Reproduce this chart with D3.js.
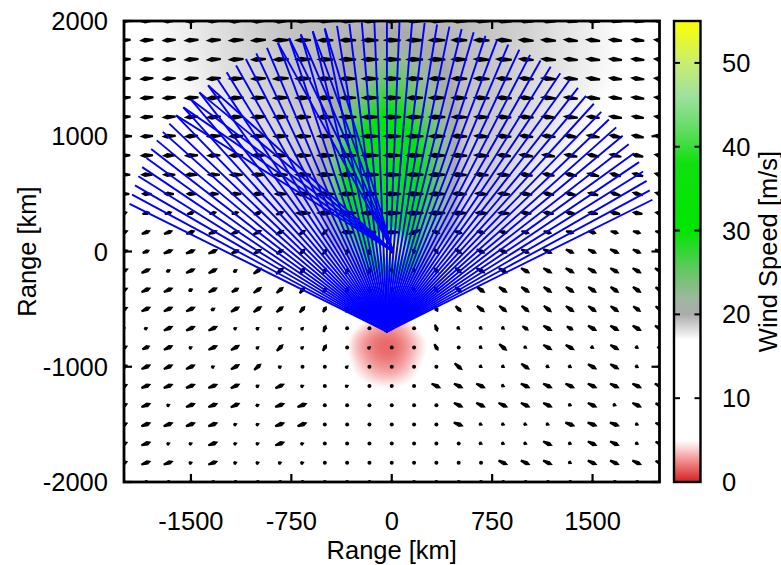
<!DOCTYPE html>
<html><head><meta charset="utf-8">
<script src="https://cdn.jsdelivr.net/npm/d3@7"></script>
<style>body{margin:0;background:#fff}svg{display:block}text{font-family:"Liberation Sans",Arial,Helvetica,sans-serif;fill:#000}</style>
</head><body><svg id="chart" width="781" height="565"></svg>
<script>
// ---------------- data ----------------
const xTicks = [-1500, -750, 0, 750, 1500];
const yTicks = [-2000, -1000, 0, 1000, 2000];
const cbTicks = [0, 10, 20, 30, 40, 50];
const xLabel = "Range [km]", yLabel = "Range [km]", cbLabel = "Wind Speed [m/s]";

// background wind-speed field (m/s), nodes every 250 km, rows from y=2000 down to y=-2000
const speedX = [-2000,-1750,-1500,-1250,-1000,-750,-500,-250,0,250,500,750,1000,1250,1500,1750,2000];
const speedY = [2000,1750,1500,1250,1000,750,500,250,0,-250,-500,-750,-1000,-1250,-1500,-1750,-2000];
const speedGrid = [
 [16.8,17.2,17.7,18.2,18.7,19.1,19.4,19.6,19.7,19.6,19.4,19,18.6,18,17.5,17,16.6],
 [16.6,17.1,17.6,18.1,18.6,19.1,19.5,20.2,21.5,20.2,19.5,19,18.5,18,17.5,17,16.5],
 [16.4,16.9,17.4,18,18.5,19,19.5,21.5,25,22,19.5,19,18.4,17.9,17.4,16.9,16.4],
 [16,16.5,17.1,17.7,18.3,18.9,19.6,25,29,24,19.6,18.9,18.3,17.8,17.2,16.7,16.2],
 [15.5,16.2,16.8,17.4,18.1,18.7,20,29,33,27,19.6,18.8,18.2,17.6,17,16.5,15.8],
 [15,15.8,16.5,17.2,17.9,18.6,21,33,35,28,19.5,18.7,18,17.4,16.9,16.3,15.5],
 [14.5,15.5,16.3,17,17.7,18.5,21,34,36,28,19.2,18.6,17.8,17.2,16.7,16,15],
 [14,15,16,16.7,17.3,18,19.5,31,37,26,18.8,18.2,17.5,17,16.4,15.6,14.5],
 [13.5,14.5,15.3,16,16.6,17.2,18.3,24,55,22,18,17.5,17,16.5,15.8,15,14],
 [13,14,14.5,15,15.5,16,16.5,17,20,17,16.5,16,15.5,15,14.5,14,13],
 [12.5,13,13.5,13.5,13.5,13.5,12.5,8.2,6.2,8.8,12,13,13,13,12.5,12,12],
 [12,12,12,12,12,11.5,9.5,3.6,2,5,9.5,12,12,12,12,12,12],
 [11.5,11.5,11.5,11.5,11.5,11,9.2,4.2,2.6,5.4,9.5,11.5,11.5,11.5,11.5,11.5,11.5],
 [11,11,11,11,11,11,10,6.8,6,7.2,10,11,11,11,11,11,11],
 [11,11,11,11,11,11,11,10.5,10,10.5,11,11,11,11,11,11,11],
 [11,11,11,11,11,11,11,11,11,11,11,11,11,11,11,11,11],
 [11,11,11,11,11,11,11,11,11,11,11,11,11,11,11,11,11]
];

// palette stops (m/s) and colours
const paletteStops  = [0, 1.5, 3, 4.2, 5, 17, 18, 20, 22, 26, 30, 38, 42, 46, 50, 55];
const paletteColors = ['#d42020','#e86060','#f4a5a5','#fcdede','#ffffff','#ffffff','#e2e2e2','#ababab','#9cb89c','#55cc55','#00e600','#10e010','#60dd60','#9ee09e','#c8ee70','#ffff00'];

// wind vectors on a 25 x 25 grid (km), rows from y=2000 down to y=-2000
const vecX = [-2000,-1833.3,-1666.7,-1500,-1333.3,-1166.7,-1000,-833.3,-666.7,-500,-333.3,-166.7,0,166.7,333.3,500,666.7,833.3,1000,1166.7,1333.3,1500,1666.7,1833.3,2000];
const vecY = [2000,1833.3,1666.7,1500,1333.3,1166.7,1000,833.3,666.7,500,333.3,166.7,0,-166.7,-333.3,-500,-666.7,-833.3,-1000,-1166.7,-1333.3,-1500,-1666.7,-1833.3,-2000];
// direction in degrees (0 = toward east, 90 = toward north)
const vecDir = [
 [184,184,184,184,184,183,183,182,181,180,180,180,180,180,180,179,178,177,176,176,175,175,175,175,175],
 [184,184,184,184,184,183,183,182,181,180,180,180,180,180,180,179,178,177,176,176,175,175,175,175,175],
 [184,184,184,184,184,183,183,182,181,180,180,180,180,180,180,179,178,177,176,176,175,175,175,175,175],
 [184,184,184,184,184,183,183,182,181,180,180,180,180,180,180,179,178,177,176,175,175,174,174,174,174],
 [184,184,184,184,184,183,183,182,181,180,180,180,180,180,180,179,178,177,176,175,174,173,173,173,173],
 [184,184,184,184,184,183,183,182,181,180,180,180,180,180,180,179,178,177,176,175,174,173,172,172,172],
 [183,183,183,183,183,182,182,181,180,180,180,180,180,180,180,178,177,176,175,174,172,171,170,170,170],
 [182,182,182,182,182,181,181,180,180,180,180,180,180,180,180,178,176,175,173,172,170,169,168,168,168],
 [180,180,180,180,180,180,180,180,180,180,180,180,180,180,180,178,176,174,172,170,168,166,165,165,165],
 [178,178,178,178,178,178,180,180,180,180,180,180,180,180,180,178,176,174,172,170,168,166,165,165,165],
 [15,15,15,15,15,15,18,20,180,180,180,180,180,180,180,180,178,176,174,172,170,170,170,170,170],
 [20,20,20,20,20,22,24,28,35,45,180,180,180,200,-20,-15,-15,-15,-15,-15,-15,-15,-15,-15,-15],
 [22,22,22,22,24,26,30,35,45,55,70,90,-80,-70,-50,-35,-25,-25,-25,-25,-25,-25,-25,-25,-25],
 [25,25,25,25,28,30,35,40,50,60,75,90,-80,-70,-50,-40,-30,-30,-30,-30,-30,-30,-30,-30,-30],
 [25,25,25,25,28,30,35,40,50,60,70,85,-80,-70,-55,-40,-35,-35,-35,-35,-35,-35,-35,-35,-35],
 [25,25,25,25,28,30,35,40,50,60,70,80,-80,-70,-60,-45,-40,-40,-40,-40,-35,-35,-35,-35,-35],
 [25,25,25,25,25,30,35,40,45,70,60,60,-80,-70,-70,-40,-40,-40,-35,-30,-30,-30,-30,-30,-30],
 [25,25,25,25,25,30,40,45,40,60,30,40,0,-60,-60,-40,-40,-40,-35,-30,-30,-30,-30,-30,-30],
 [25,25,25,25,25,30,40,30,30,30,40,0,0,0,0,-40,-35,-35,-35,-30,-30,-30,-30,-30,-30],
 [22,22,22,22,22,25,30,25,25,25,25,0,0,0,-25,-25,-25,-25,-25,-25,-25,-25,-25,-25,-25],
 [22,22,22,22,22,25,25,20,20,20,20,0,0,0,0,-25,-25,-25,-25,-25,-25,-25,-25,-25,-25],
 [20,20,20,20,20,20,20,20,20,20,20,0,0,0,0,-20,-20,-20,-20,-20,-20,-20,-20,-20,-20],
 [20,20,20,20,20,20,20,20,20,20,20,0,0,0,0,-25,-25,-25,-25,-25,-25,-25,-25,-25,-25],
 [20,20,20,20,20,20,20,20,20,20,20,0,0,0,0,-25,-25,-25,-25,-25,-25,-25,-25,-25,-25],
 [20,20,20,20,20,20,20,20,20,20,20,0,0,0,0,-25,-25,-25,-25,-25,-25,-25,-25,-25,-25]
];
// vector speed (m/s)
const vecSpeed = [
 [15,16,16,17,17,18,18,19,19,19,20,20,20,20,20,19,19,19,18,18,17,17,16,16,15],
 [15,16,16,17,17,18,18,19,19,19,20,20,20,20,20,19,19,19,18,18,17,17,16,16,15],
 [15,16,16,17,17,18,18,19,19,19,20,20,20,20,20,19,19,19,18,18,17,17,16,16,15],
 [15,16,16,17,17,18,18,19,19,19,20,20,20,20,20,19,19,19,18,18,17,17,16,16,15],
 [15,16,16,17,17,18,18,19,19,19,20,20,20,20,20,19,19,19,18,18,17,17,16,16,15],
 [15,15,16,16,17,17,18,18,19,20,21,21,21,21,20,19,18,18,18,17,17,16,16,15,15],
 [15,15,16,16,17,17,18,18,19,20,21,21,21,21,20,19,18,18,17,17,16,16,15,15,15],
 [14,15,15,16,16,17,17,18,19,20,21,21,21,21,20,19,18,17,17,16,16,15,15,14,14],
 [14,14,15,15,15,16,16,17,19,20,21,21,21,21,20,18,17,16,16,15,15,15,14,14,14],
 [12,12,12,12,12,13,14,15,18,20,21,21,21,21,20,18,16,15,15,14,14,13,13,13,13],
 [9,9,9,9,9,9,10,10,18,20,21,21,21,21,20,18,15,14,13,13,12,12,12,12,12],
 [11,11,11,11,11,11,11,11,10,10,15,15,15,15,10,10,10,10,10,10,10,10,10,10,10],
 [11,9,12,12,12,10,11,10,10,8,8,8,6,6,8,10,11,11,11,12,11,11,12,11,11],
 [12,12,6,12,12,6,12,12,10,8,8,8,6,6,8,10,12,12,12,12,12,12,12,12,12],
 [11,12,12,6,12,10,12,11,10,8,8,8,6,6,8,10,12,12,12,12,12,12,12,12,11],
 [11,12,12,12,6,12,12,11,10,8,8,8,6,6,8,10,12,12,12,12,12,12,12,11,11],
 [5,5,12,12,12,5,5,5,5,9,2,2,2,2,9,5,5,5,9,12,9,12,12,12,12],
 [10,10,12,5,12,12,5,11,5,9,2,5,2,2,9,2,5,12,5,12,12,5,12,5,5],
 [10,12,12,12,5,12,11,5,2,2,5,2,2,2,2,12,5,5,12,5,5,12,12,5,5],
 [10,12,12,12,12,12,5,12,5,2,5,2,2,2,12,12,12,5,12,12,12,12,12,12,12],
 [10,12,5,12,12,12,5,12,12,2,2,2,2,2,2,12,12,12,12,12,5,12,5,12,10],
 [10,12,12,12,12,5,5,12,12,2,2,2,2,2,2,12,5,5,5,5,12,12,12,5,10],
 [10,12,5,5,12,5,5,12,5,2,2,2,2,2,2,2,5,5,5,12,5,12,12,5,10],
 [10,12,12,5,12,5,5,5,5,2,2,2,2,2,2,2,2,12,12,12,5,12,12,12,10],
 [3,3,3,3,3,3,3,3,3,3,3,3,3,3,3,3,3,3,3,3,3,3,3,3,3]
];

// radar beams: radar position (km), beam azimuth (deg from north) and range (km)
const radar1 = [-36, -696];
const beamAz = [-60,-58,-56,-54,-52,-50,-48,-46,-44,-42,-40,-38,-36,-34,-32,-30,-28,-26,-24,-22,-20,-18,-16,-14,-12,-10,-8,-6,-4,-2,0,2,4,6,8,10,12,14,16,18,20,22,24,26,28,30,32,34,36,38,40,42,44,46,48,50,52,54,56,58,60];
const beamRange = [2220,2245,2270,2295,2320,2345,2370,2390,2410,2430,2450,2470,2490,2505,2520,2535,2550,2570,2590,2605,2620,2635,2650,2658,2665,2672,2680,2685,2690,2695,2700,2700,2698,2695,2692,2688,2685,2678,2670,2660,2650,2640,2630,2618,2605,2590,2575,2552,2530,2510,2490,2478,2465,2448,2430,2410,2390,2365,2340,2315,2290];
// second converging bundle: lines from this point to the ends of these beams
const radar2 = [10, 0];
const bundleAz = [-40,-38,-36,-34,-32,-18,-16,-14,-12,-10];

// ---------------- drawing ----------------
const FS = 25.5;
const svg = d3.select('#chart');
const P = {l:124, r:659.5, t:21, b:482};
const x = d3.scaleLinear([-2000, 2000], [P.l, P.r]);
const y = d3.scaleLinear([-2000, 2000], [P.b, P.t]);
const color = d3.scaleLinear(paletteStops, paletteColors).clamp(true);

svg.append('defs').append('clipPath').attr('id','clip')
  .append('rect').attr('x',P.l).attr('y',P.t).attr('width',P.r-P.l).attr('height',P.b-P.t);

// background (smooth bicubic shading of the speed grid)
(function(){
  const W = Math.round(P.r-P.l), H = Math.round(P.b-P.t);
  const cv = document.createElement('canvas'); cv.width=W; cv.height=H;
  const ctx = cv.getContext('2d'); const img = ctx.createImageData(W,H);
  const gx = d3.scaleLinear([speedX[0], speedX[speedX.length-1]], [0, speedX.length-1]);
  const gy = d3.scaleLinear([speedY[0], speedY[speedY.length-1]], [0, speedY.length-1]);
  const nI = speedX.length, nJ = speedY.length;
  const at=(i,j)=>speedGrid[Math.max(0,Math.min(nJ-1,j))][Math.max(0,Math.min(nI-1,i))];
  const cr=(p0,p1,p2,p3,t)=>0.5*((2*p1)+(-p0+p2)*t+(2*p0-5*p1+4*p2-p3)*t*t+(-p0+3*p1-3*p2+p3)*t*t*t);
  for(let py=0;py<H;py++){
    const fy = gy(y.invert(P.t+py+0.5)); const j=Math.floor(fy), ty=fy-j;
    for(let px=0;px<W;px++){
      const fx = gx(x.invert(P.l+px+0.5)); const i=Math.floor(fx), tx=fx-i;
      const rows=[];
      for(let m=-1;m<=2;m++) rows.push(cr(at(i-1,j+m),at(i,j+m),at(i+1,j+m),at(i+2,j+m),tx));
      const v = cr(rows[0],rows[1],rows[2],rows[3],ty);
      const c = d3.rgb(color(Math.max(0,Math.min(55,v))));
      const o=(py*W+px)*4; img.data[o]=c.r; img.data[o+1]=c.g; img.data[o+2]=c.b; img.data[o+3]=255;
    }
  }
  ctx.putImageData(img,0,0);
  svg.append('image').attr('x',P.l).attr('y',P.t).attr('width',W).attr('height',H)
    .attr('preserveAspectRatio','none').attr('href', cv.toDataURL());
})();

// wind vectors
const lenScale = d3.scaleLinear([0, 20], [0, 18]);
const gv = svg.append('g').attr('clip-path','url(#clip)');
vecDir.forEach((row, ri) => row.forEach((dir, ci) => {
  const s = vecSpeed[ri][ci], L = lenScale(s);
  const cx = x(vecX[ci]), cy = y(vecY[ri]);
  if (L < 3.5) {
    gv.append('circle').attr('cx',cx).attr('cy',cy).attr('r',2).attr('fill','#000');
    return;
  }
  const hw = Math.min(2.6, 1.9 + L*0.04), h = Math.max(3, L*0.4), tw = 1.0;
  const d = `M${-L/2},${-tw}L${L/2-h},${-hw}L${L/2},0L${L/2-h},${hw}L${-L/2},${tw}Z`;
  gv.append('path').attr('d',d).attr('fill','#000')
    .attr('transform',`translate(${cx},${cy}) rotate(${-dir})`);
}));

// beams
const gb = svg.append('g').attr('clip-path','url(#clip)');
const endOf = (az, r) => [radar1[0] + r*Math.sin(az*Math.PI/180), radar1[1] + r*Math.cos(az*Math.PI/180)];
beamAz.forEach((az, i) => {
  const e = endOf(az, beamRange[i]);
  gb.append('line').attr('x1',x(radar1[0])).attr('y1',y(radar1[1])).attr('x2',x(e[0])).attr('y2',y(e[1]))
    .attr('stroke','#0000ff').attr('stroke-width',1.9);
});
bundleAz.forEach(az => {
  const i = beamAz.indexOf(az); const e = endOf(az, beamRange[i]);
  gb.append('line').attr('x1',x(radar2[0])).attr('y1',y(radar2[1])).attr('x2',x(e[0])).attr('y2',y(e[1]))
    .attr('stroke','#0000ff').attr('stroke-width',1.9);
});

// frame & axes
const tickLen = 8;
svg.append('rect').attr('x',P.l).attr('y',P.t).attr('width',P.r-P.l).attr('height',P.b-P.t)
  .attr('fill','none').attr('stroke','#000').attr('stroke-width',2.8);
const axG = svg.append('g');
xTicks.forEach(t => {
  axG.append('line').attr('x1',x(t)).attr('x2',x(t)).attr('y1',P.b).attr('y2',P.b-tickLen).attr('stroke','#000').attr('stroke-width',2.2);
  axG.append('line').attr('x1',x(t)).attr('x2',x(t)).attr('y1',P.t).attr('y2',P.t+tickLen).attr('stroke','#000').attr('stroke-width',2.2);
  axG.append('text').attr('x',x(t)).attr('y',530).attr('text-anchor','middle').attr('font-size',FS).text(t);
});
yTicks.forEach(t => {
  axG.append('line').attr('y1',y(t)).attr('y2',y(t)).attr('x1',P.l).attr('x2',P.l+tickLen).attr('stroke','#000').attr('stroke-width',2.2);
  axG.append('line').attr('y1',y(t)).attr('y2',y(t)).attr('x1',P.r).attr('x2',P.r-tickLen).attr('stroke','#000').attr('stroke-width',2.2);
  axG.append('text').attr('x',108).attr('y',y(t)+9).attr('text-anchor','end').attr('font-size',FS).text(t);
});
svg.append('text').attr('x',(P.l+P.r)/2).attr('y',559).attr('text-anchor','middle').attr('font-size',FS).text(xLabel);
svg.append('text').attr('transform',`translate(36,${(P.t+P.b)/2}) rotate(-90)`).attr('text-anchor','middle').attr('font-size',FS).text(yLabel);

// colour bar
const CB = {l:674, r:700.5};
const cy = d3.scaleLinear([0, 55], [P.b, P.t]);
const grad = svg.select('defs').append('linearGradient').attr('id','cbg').attr('x1',0).attr('y1',1).attr('x2',0).attr('y2',0);
paletteStops.forEach((s,i)=>grad.append('stop').attr('offset',s/55).attr('stop-color',paletteColors[i]));
svg.append('rect').attr('x',CB.l).attr('y',P.t).attr('width',CB.r-CB.l).attr('height',P.b-P.t).attr('fill','url(#cbg)')
  .attr('stroke','#000').attr('stroke-width',2.4);
cbTicks.forEach(t => {
  if (t>0) {
    svg.append('line').attr('x1',CB.l).attr('x2',CB.l+6).attr('y1',cy(t)).attr('y2',cy(t)).attr('stroke','#000').attr('stroke-width',2);
    svg.append('line').attr('x1',CB.r).attr('x2',CB.r-6).attr('y1',cy(t)).attr('y2',cy(t)).attr('stroke','#000').attr('stroke-width',2);
  }
  svg.append('text').attr('x',722).attr('y',cy(t)+9).attr('font-size',FS).text(t);
});
svg.append('text').attr('transform',`translate(777,${(P.t+P.b)/2}) rotate(-90)`).attr('text-anchor','middle').attr('font-size',FS).text(cbLabel);
</script></body></html>
